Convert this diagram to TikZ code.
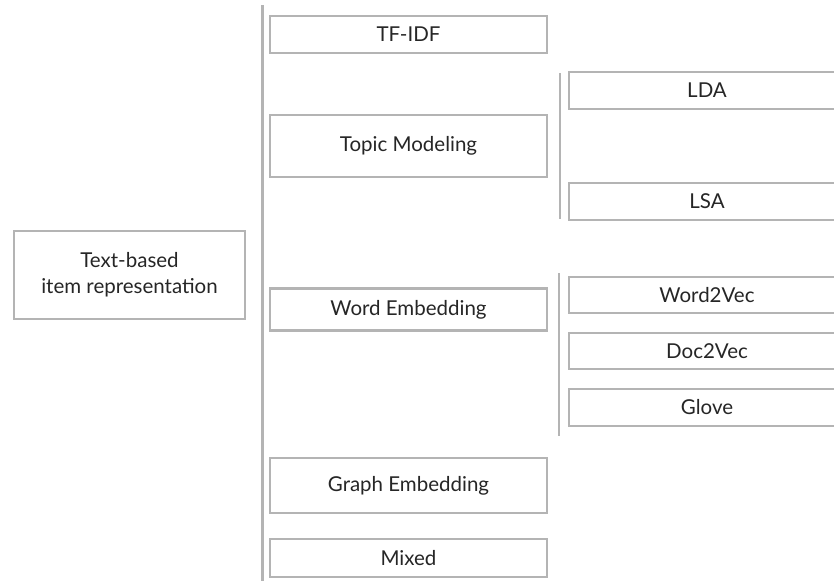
\documentclass[tikz,border=0pt]{standalone}
\usepackage{fontspec}
\setmainfont{Lato}
\usetikzlibrary{positioning}
\definecolor{boxgray}{HTML}{B4B4B4}
\definecolor{textgray}{HTML}{262626}

\begin{document}
\begin{tikzpicture}[x=1pt,y=-1pt,box/.style={rectangle, draw=boxgray, line width=2.6pt, fill=white, text=textgray, inner sep=0pt, align=center, font=\fontsize{20.5}{26}\selectfont}]
    \tikzset{leaf/.style={box, minimum width=276pt}}
    \tikzset{mid/.style={box, minimum width=277pt}}
    \tikzset{bar/.style={draw=boxgray, line width=2.6pt}}
    \useasboundingbox (0,0) rectangle (834,581);
    \clip (0,0) rectangle (834,581);
    \fill[white] (0,0) rectangle (834,581);

    % root
    \node[box, minimum width=231pt, minimum height=88pt] (root) at (129.5,275) {Text-based\\item representation};

    % second level
    \node[mid, minimum height=37pt] (tfidf) at (408.5,34.5) {TF-IDF};
    \node[mid, minimum height=62pt] (topic) at (408.5,146) {Topic Modeling};
    \node[mid, minimum height=42pt] (word) at (408.5,309.5) {Word Embedding};
    \node[mid, minimum height=55pt] (graph) at (408.5,485.5) {Graph Embedding};
    \node[mid, minimum height=38pt] (mixed) at (408.5,558) {Mixed};

    % third level
    \node[leaf, minimum height=37pt] (lda) at (707,90.5) {LDA};
    \node[leaf, minimum height=37pt] (lsa) at (707,201.5) {LSA};
    \node[leaf, minimum height=36pt] (w2v) at (707,295) {Word2Vec};
    \node[leaf, minimum height=36pt] (d2v) at (707,351) {Doc2Vec};
    \node[leaf, minimum height=37pt] (glove) at (707,407.5) {Glove};

    % bars
    \coordinate (b1a) at (262.5,5);  \coordinate (b1b) at (262.5,581);
    \coordinate (b2a) at (560,73);   \coordinate (b2b) at (560,219);
    \coordinate (b3a) at (559,273);  \coordinate (b3b) at (559,436);
    \draw[bar] (b1a) -- (b1b);
    \draw[bar] (b2a) -- (b2b);
    \draw[bar] (b3a) -- (b3b);
\end{tikzpicture}
\end{document}
